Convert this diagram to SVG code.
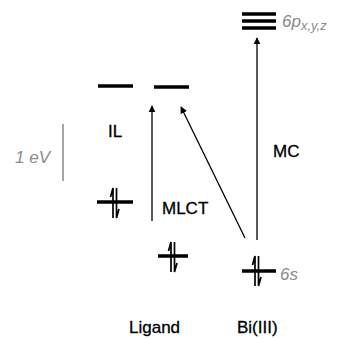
<svg xmlns="http://www.w3.org/2000/svg" width="338" height="339" viewBox="0 0 338 339">
<defs>
<style>
.lvl{stroke:#000;stroke-width:3.5;fill:none}
.spin{stroke:#000;stroke-width:1.7;fill:none}
.arr{stroke:#000;stroke-width:1.3;fill:none}
.lab{font-family:"Liberation Sans",Arial,sans-serif;font-size:17px;fill:#000;stroke:#000;stroke-width:0.3}
.note{font-family:"Liberation Sans",Arial,sans-serif;font-style:italic;font-size:17px;fill:#8a8a8a}
</style>
<marker id="ah" viewBox="0 0 10 10" refX="9" refY="5" markerWidth="7" markerHeight="13" markerUnits="userSpaceOnUse" orient="auto">
<path d="M0,0 L10,5 L0,10 Z" fill="#000"/>
</marker>
<g id="pair">
<path class="spin" d="M-2,15 L-2,-15 L-4.5,-6"/>
<path class="spin" d="M1.5,-15 L1.5,15 L4,6"/>
</g>
</defs>
<g id="connectors">
<line class="arr" x1="152" y1="221" x2="152" y2="106" marker-end="url(#ah)"/>
<line class="arr" x1="245" y1="238" x2="181" y2="107" marker-end="url(#ah)"/>
<line class="arr" x1="257" y1="240" x2="257" y2="38" marker-end="url(#ah)"/>
</g>
<g id="scale">
<line x1="63" y1="124" x2="63" y2="181" stroke="#888" stroke-width="1.5"/>
<text class="note" x="15" y="163">1 eV</text>
</g>
<g id="bi-6p">
<line class="lvl" x1="242" y1="14" x2="276" y2="14"/>
<line class="lvl" x1="242" y1="21" x2="276" y2="21"/>
<line class="lvl" x1="242" y1="28" x2="276" y2="28"/>
<text class="note" x="282" y="27">6p<tspan font-size="13" dy="3">x,y,z</tspan></text>
</g>
<g id="lig-lumo1"><line class="lvl" x1="98" y1="86" x2="133" y2="86"/></g>
<g id="lig-lumo2"><line class="lvl" x1="154" y1="87" x2="189" y2="87"/></g>
<g id="lig-homo1">
<line class="lvl" x1="97" y1="202" x2="133" y2="202"/>
<use href="#pair" x="115" y="203"/>
</g>
<g id="lig-homo2">
<line class="lvl" x1="158" y1="256" x2="188" y2="256"/>
<use href="#pair" x="173" y="257"/>
</g>
<g id="bi-6s">
<line class="lvl" x1="242" y1="271" x2="276" y2="271"/>
<use href="#pair" x="257" y="271"/>
<text class="note" x="280" y="280">6s</text>
</g>
<g id="labels">
<text class="lab" x="108" y="137">IL</text>
<text class="lab" x="162" y="214">MLCT</text>
<text class="lab" x="273" y="157">MC</text>
<text class="lab" x="129" y="333">Ligand</text>
<text class="lab" x="237" y="333">Bi(III)</text>
</g>
</svg>
